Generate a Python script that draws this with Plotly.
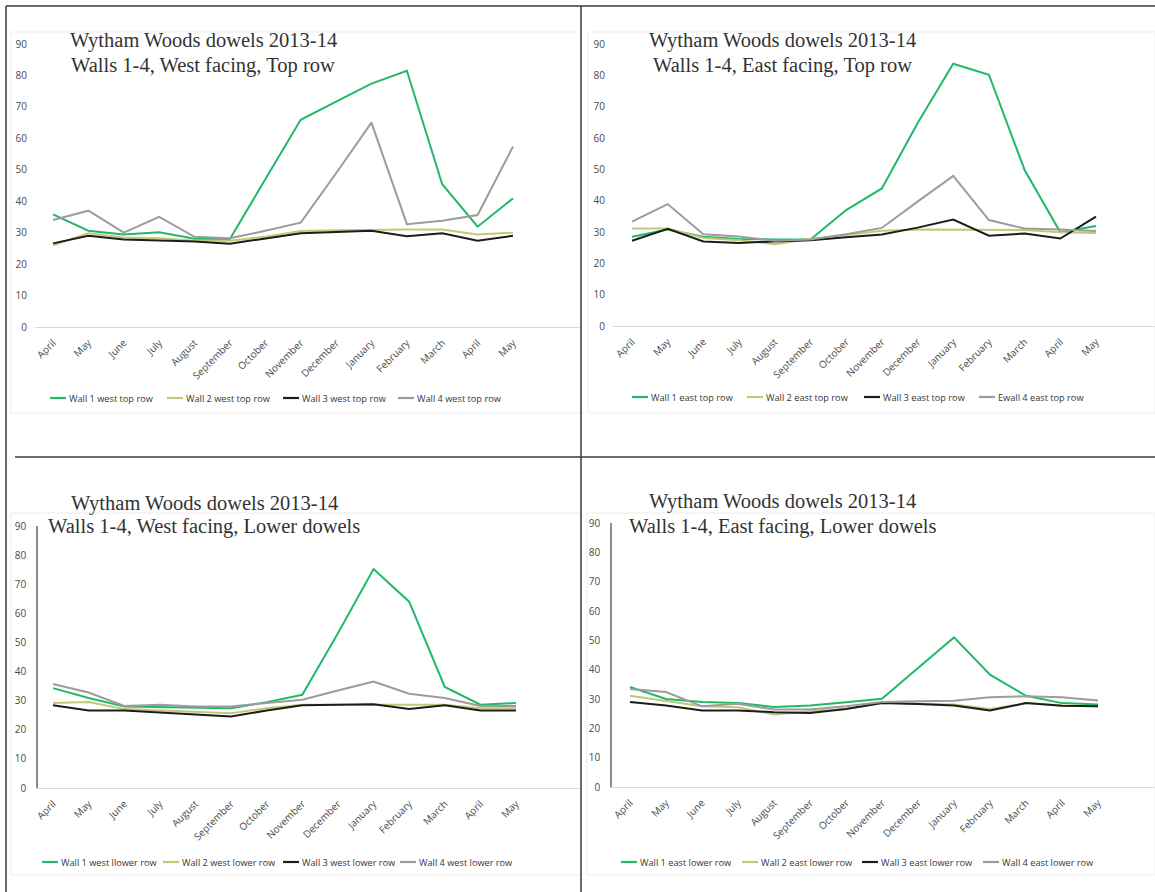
import plotly.graph_objects as go

W, H = 1155, 892

months = ["April", "May", "June", "July", "August", "September", "October",
          "November", "December", "January", "February", "March", "April", "May"]
x_idx = list(range(len(months)))
y_ticks = [0, 10, 20, 30, 40, 50, 60, 70, 80, 90]

title_line1 = "Wytham Woods dowels 2013-14"

# ---- West facing, top row ----
west_top_title = "Walls 1-4, West facing, Top row"
west_top_names = ["Wall 1 west top row", "Wall 2 west top row",
                  "Wall 3 west top row", "Wall 4 west top row"]
west_top_w1 = [35.8, 30.6, 29.4, 30.1, 28.1, 28.0, 47.0, 65.9, 71.7, 77.4, 81.5, 45.4, 31.9, 40.9]
west_top_w2 = [26.0, 29.8, 28.5, 28.2, 27.4, 27.4, 28.7, 30.5, 30.8, 31.0, 31.0, 31.0, 29.4, 30.0]
west_top_w3 = [26.6, 29.0, 27.8, 27.4, 27.2, 26.5, 28.2, 29.8, 30.2, 30.6, 28.9, 29.8, 27.4, 29.0]
west_top_w4 = [34.0, 37.0, 30.0, 35.0, 28.7, 28.2, 30.6, 33.2, 48.9, 65.0, 32.7, 33.8, 35.6, 57.4]

# ---- East facing, top row ----
east_top_title = "Walls 1-4, East facing, Top row"
east_top_names = ["Wall 1 east top row", "Wall 2 east top row",
                  "Wall 3 east top row", "Ewall 4 east top row"]
east_top_w1 = [28.5, 30.8, 28.5, 27.8, 27.6, 27.6, 37.0, 43.9, 64.7, 83.7, 80.2, 49.8, 29.9, 31.9]
east_top_w2 = [31.1, 31.1, 28.1, 27.4, 26.1, 27.8, 29.0, 30.4, 30.8, 30.8, 30.6, 30.6, 29.9, 29.7]
east_top_w3 = [27.2, 31.0, 27.0, 26.5, 27.0, 27.4, 28.3, 29.2, 31.4, 34.0, 28.8, 29.5, 27.9, 34.9]
east_top_w4 = [33.3, 38.9, 29.3, 28.6, 27.2, 27.6, 29.3, 31.3, 39.7, 47.9, 33.8, 31.1, 30.8, 30.3]

# ---- West facing, lower dowels ----
west_low_title = "Walls 1-4, West facing, Lower dowels"
west_low_names = ["Wall 1 west llower row", "Wall 2 west lower row",
                  "Wall 3 west lower row", "Wall 4 west lower row"]
west_low_w1 = [34.3, 30.9, 28.0, 27.8, 27.4, 27.4, 29.5, 32.0, 53.2, 75.2, 64.0, 34.7, 28.6, 29.2]
west_low_w2 = [29.2, 29.5, 27.1, 26.6, 26.0, 25.7, 27.4, 28.6, 28.6, 28.6, 28.4, 28.6, 27.4, 27.4]
west_low_w3 = [28.4, 26.6, 26.6, 26.0, 25.2, 24.6, 26.6, 28.4, 28.6, 28.8, 27.1, 28.4, 26.6, 26.6]
west_low_w4 = [35.7, 32.8, 28.2, 28.6, 28.0, 28.0, 29.2, 30.3, 33.5, 36.6, 32.4, 30.9, 28.2, 28.2]

# ---- East facing, lower dowels ----
east_low_title = "Walls 1-4, East facing, Lower dowels"
east_low_names = ["Wall 1 east lower row", "Wall 2 east lower row",
                  "Wall 3 east lower row", "Wall 4 east lower row"]
east_low_w1 = [34.1, 30.0, 29.0, 28.6, 27.3, 27.8, 28.9, 30.1, 40.6, 51.0, 38.3, 31.1, 28.6, 28.1]
east_low_w2 = [31.1, 29.2, 27.5, 27.2, 24.7, 25.8, 26.6, 28.6, 28.3, 28.1, 26.6, 28.6, 27.8, 27.5]
east_low_w3 = [29.0, 27.8, 26.1, 26.1, 25.5, 25.2, 26.6, 28.6, 28.3, 27.8, 26.1, 28.6, 27.7, 27.5]
east_low_w4 = [33.4, 32.4, 27.5, 28.4, 26.4, 26.4, 27.5, 29.0, 29.2, 29.4, 30.6, 30.9, 30.6, 29.5]

line_colors = ["#22b86a", "#c2c878", "#1c1c1c", "#9c9c9c"]


def px_x(p):
    return p / W


def px_y(p):
    return 1 - p / H


# Panel geometry in pixels: axis left/right, first/last category centre,
# pixel of y=0 and y=90, title centre, legend row (key starts + baseline)
panels = [
    dict(series=[west_top_w1, west_top_w2, west_top_w3, west_top_w4], names=west_top_names,
         sub=west_top_title, xa=35, xr=580, x0=53, x13=513, y0=327, y90=44,
         tx=203, ty1=41, ty2=65, keys=[50, 167, 283, 398], ly=398,
         yline=False, box=(11, 32, 581, 413)),
    dict(series=[east_top_w1, east_top_w2, east_top_w3, east_top_w4], names=east_top_names,
         sub=east_top_title, xa=613, xr=1155, x0=632, x13=1096, y0=326, y90=44,
         tx=782, ty1=41, ty2=65, keys=[632, 747, 864, 979], ly=397,
         yline=False, box=(588, 32, 1155, 413)),
    dict(series=[west_low_w1, west_low_w2, west_low_w3, west_low_w4], names=west_low_names,
         sub=west_low_title, xa=38, xr=580, x0=53, x13=516, y0=788, y90=526,
         tx=204, ty1=503, ty2=526, keys=[42, 163, 283, 400], ly=862,
         yline=True, box=(11, 513, 581, 875)),
    dict(series=[east_low_w1, east_low_w2, east_low_w3, east_low_w4], names=east_low_names,
         sub=east_low_title, xa=612, xr=1155, x0=630, x13=1098, y0=787, y90=523,
         tx=782, ty1=502, ty2=526, keys=[621, 742, 862, 983], ly=862,
         yline=True, box=(587, 513, 1155, 875)),
]

KEY_LEN = 16
TICK_COLOR = "#4a4a4a"

fig = go.Figure()
layout = dict(
    width=W, height=H,
    margin=dict(l=0, r=0, t=0, b=0, pad=0, autoexpand=False),
    paper_bgcolor="white", plot_bgcolor="rgba(0,0,0,0)",
    font=dict(family="Open Sans, Lato, sans-serif", color=TICK_COLOR),
    showlegend=False,
)
shapes = []
annotations = []

for i, p in enumerate(panels):
    n = i + 1
    xs = "" if n == 1 else str(n)
    spacing = (p["x13"] - p["x0"]) / 13.0
    r0 = (p["xa"] - p["x0"]) / spacing
    r1 = 13 + (p["xr"] - p["x13"]) / spacing

    for k in range(4):
        fig.add_trace(go.Scatter(
            x=x_idx, y=p["series"][k], mode="lines", name=p["names"][k],
            line=dict(color=line_colors[k], width=2),
            xaxis=f"x{xs}", yaxis=f"y{xs}",
        ))

    layout[f"xaxis{xs}"] = dict(
        domain=[px_x(p["xa"]), min(1.0, px_x(p["xr"]))],
        range=[r0, r1], anchor=f"y{xs}",
        tickmode="array", tickvals=x_idx, ticktext=months, tickangle=-45,
        tickfont=dict(size=10, color=TICK_COLOR),
        ticks="outside", ticklen=5, tickcolor="rgba(0,0,0,0)",
        showgrid=False, zeroline=False, automargin=False,
        showline=True, linecolor="#d9d9d9", linewidth=1.2,
    )
    layout[f"yaxis{xs}"] = dict(
        domain=[px_y(p["y0"]), px_y(p["y90"])],
        range=[0, 90], anchor=f"x{xs}",
        tickmode="array", tickvals=y_ticks,
        tickfont=dict(size=10, color=TICK_COLOR),
        ticks="outside", ticklen=8 if p["yline"] else 5, tickcolor="rgba(0,0,0,0)",
        showgrid=False, zeroline=False, automargin=False,
        showline=p["yline"], linecolor="#8c8c8c", linewidth=1.5,
    )

    # legend row: short coloured key followed by the series name
    for k in range(4):
        kx = p["keys"][k]
        shapes.append(dict(type="line", xref="paper", yref="paper",
                           x0=px_x(kx), x1=px_x(kx + KEY_LEN),
                           y0=px_y(p["ly"]), y1=px_y(p["ly"]),
                           line=dict(color=line_colors[k], width=2.2)))
        annotations.append(dict(
            text=p["names"][k], xref="paper", yref="paper",
            x=px_x(kx + KEY_LEN + 1), y=px_y(p["ly"]),
            xanchor="left", yanchor="middle", showarrow=False,
            font=dict(size=9.2, color="#363636"),
        ))

    # faint chart-area frame
    bx0, by0, bx1, by1 = p["box"]
    shapes.append(dict(type="rect", xref="paper", yref="paper",
                       x0=px_x(bx0), x1=px_x(bx1), y0=px_y(by1), y1=px_y(by0),
                       line=dict(color="#ececec", width=1), layer="below"))

    # two-line serif title
    for txt, ty in ((title_line1, p["ty1"]), (p["sub"], p["ty2"])):
        annotations.append(dict(
            text=txt, xref="paper", yref="paper",
            x=px_x(p["tx"]), y=px_y(ty), xanchor="center", yanchor="middle",
            showarrow=False,
            font=dict(family="Liberation Serif, Times New Roman, serif", size=20.5, color="#333333"),
        ))

# outer frame and dividers
frame_color = "#3a3a3a"
shapes += [
    dict(type="line", xref="paper", yref="paper", x0=px_x(6), x1=px_x(6), y0=0, y1=px_y(6),
         line=dict(color=frame_color, width=1.5)),
    dict(type="line", xref="paper", yref="paper", x0=px_x(6), x1=1, y0=px_y(6), y1=px_y(6),
         line=dict(color=frame_color, width=1.5)),
    dict(type="line", xref="paper", yref="paper", x0=px_x(581), x1=px_x(581), y0=0, y1=px_y(6),
         line=dict(color=frame_color, width=1.5)),
    dict(type="line", xref="paper", yref="paper", x0=px_x(15), x1=1, y0=px_y(457), y1=px_y(457),
         line=dict(color=frame_color, width=1.5)),
]

layout["shapes"] = shapes
layout["annotations"] = annotations
fig.update_layout(**layout)

fig.write_html("out.html")
